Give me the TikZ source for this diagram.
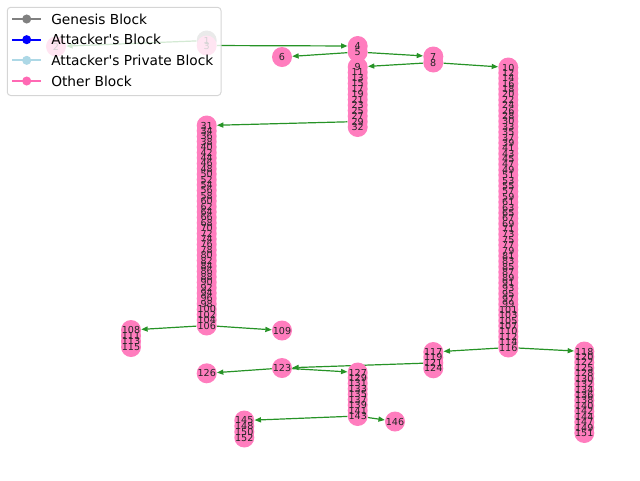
\documentclass[tikz,border=0pt]{standalone}
\usepackage{fontspec}
\newfontfamily\plotfont{DejaVu Sans}
\usetikzlibrary{arrows.meta}

\definecolor{blockpink}{RGB}{255,125,190}
\definecolor{genesisgray}{RGB}{150,150,150}
\definecolor{linkgreen}{RGB}{38,147,38}
\definecolor{legendedge}{RGB}{204,204,204}
\definecolor{lightbluekey}{RGB}{173,216,230}
\definecolor{hotpinkkey}{RGB}{255,105,180}

\pgfdeclarelayer{background}
\pgfdeclarelayer{foreground}
\pgfsetlayers{background,main,foreground}

\tikzset{
  blk/.style={circle, fill=blockpink, draw=none, minimum size=15pt, inner sep=0pt},
  genesis/.style={blk, fill=genesisgray},
  lbl/.style={font=\plotfont\fontsize{7.2}{8}\selectfont, text=black!85, inner sep=0pt},
  link/.style={draw=linkgreen, line width=0.9pt, -{Triangle[length=4.8pt,width=3.8pt]}},
  legtxt/.style={font=\plotfont\fontsize{10.3}{12}\selectfont, anchor=west, inner sep=0pt},
}

% a vertical run of blocks: x, first y, last y, number of blocks, block ids
\newcommand{\blockcolumn}[5]{%
  \foreach \b [count=\k from 0] in {#5}{%
    \pgfmathsetmacro{\yy}{#2+(#3-#2)*\k/(#4-1)}%
    \node[blk] (n\b) at (#1,\yy) {};
  }}

\begin{document}
\begin{tikzpicture}[x=0.75pt,y=-0.75pt]
\useasboundingbox (0,0) rectangle (640,480);

% single blocks and short runs at the top
\node[genesis] (n1) at (206.7,40.5) {};
\node[blk] (n2) at (56,46.5) {};
\node[blk] (n3) at (206.7,45.5) {};
\node[blk] (n4) at (357.7,46) {};
\node[blk] (n5) at (357.7,52) {};
\node[blk] (n6) at (282,57) {};
\node[blk] (n7) at (433.3,56.5) {};
\node[blk] (n8) at (433.3,62.5) {};

% long branches
\blockcolumn{357.7}{67}{127}{12}{9,11,13,15,17,19,21,23,25,27,29,32}
\blockcolumn{508.3}{67.5}{347.5}{53}{10,12,14,16,18,20,22,24,26,28,30,33,35,37,39,41,43,45,47,49,51,53,55,57,59,61,63,65,67,69,71,73,75,77,79,81,83,85,87,89,91,93,95,97,99,101,103,105,107,110,112,114,116}
\blockcolumn{206.7}{125.5}{325.5}{38}{31,34,36,38,40,42,44,46,48,50,52,54,56,58,60,62,64,66,68,70,72,74,76,78,80,82,84,86,88,90,92,94,96,98,100,102,104,106}
\blockcolumn{131}{330}{347}{4}{108,111,113,115}
\node[blk] (n109) at (282,330.5) {};
\blockcolumn{433.3}{352}{368.3}{4}{117,119,121,124}
\blockcolumn{584.3}{351.5}{433}{16}{118,120,122,125,128,130,132,134,136,138,140,142,144,147,149,151}
\node[blk] (n123) at (282,368) {};
\node[blk] (n126) at (206.7,373.3) {};
\blockcolumn{357.7}{372.5}{416}{9}{127,129,131,133,135,137,139,141,143}
\blockcolumn{244.3}{420.5}{437.5}{4}{145,148,150,152}
\node[blk] (n146) at (395,421.5) {};

% forks between branches
\begin{pgfonlayer}{background}
\foreach \s/\t in {1/2,3/4,5/6,5/7,8/9,8/10,29/31,106/108,106/109,116/117,116/118,121/123,123/126,123/127,143/145,143/146}
  \draw[link] (n\s) -- (n\t);
\end{pgfonlayer}

% block numbers above all discs
\foreach \i in {1,...,152}
  \node[lbl] (t\i) at (n\i) {\i};

% key
\begin{pgfonlayer}{foreground}
\draw[draw=legendedge, draw opacity=0.8, fill=white, fill opacity=0.8, rounded corners=2.5pt, line width=0.75pt]
  (7.3,7.3) rectangle (221,95.5);
\foreach \c/\t [count=\r from 0] in {gray/Genesis Block, blue/Attacker's Block, lightbluekey/Attacker's Private Block, hotpinkkey/Other Block}{
  \pgfmathsetmacro{\ry}{19+20.67*\r}
  \draw[\c, line width=1.5pt] (12.3,\ry) -- (40.7,\ry);
  \fill[\c] (26.7,\ry) circle (3.4pt);
  \node[legtxt] (key\r) at (51,\ry) {\t};
}
\end{pgfonlayer}
\end{tikzpicture}
\end{document}
